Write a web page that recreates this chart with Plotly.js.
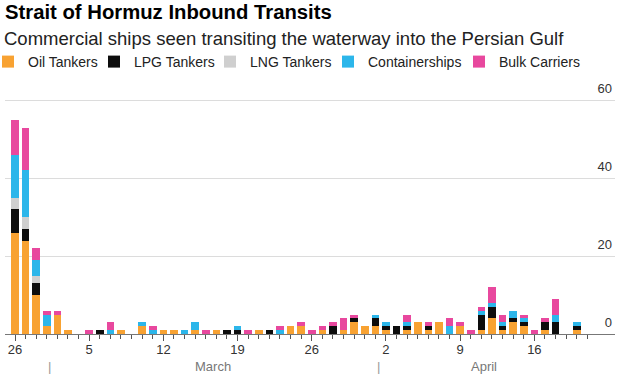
<!DOCTYPE html>
<html>
<head>
<meta charset="utf-8">
<script src="https://cdn.plot.ly/plotly-3.0.1.min.js"></script>
<style>
html,body{margin:0;padding:0;background:#fff;}
#chart{width:640px;height:375px;}
</style>
</head>
<body>
<div id="chart"></div>
<script>
// Dates: Feb 26 .. Apr 20, 2026 (one entry per day)
const dayCount = 54;
const dates = [];
for (let i = 0; i < dayCount; i++) {
  const d = new Date(Date.UTC(2026, 1, 26 + i));
  dates.push(d.toISOString().slice(0, 10));
}

const oilTankers = [26,24,10,2,5,1,0,0,0,0,1,0,2,0,1,1,0,1,0,1,0,0,0,1,0,0,2,2,0,1,0,1,3,2,2,1,0,1,3,1,3,0,2,0,1,4,1,3,2,0,1,0,0,1];
const lpgTankers = [6,3,3,0,0,0,0,0,1,0,0,0,0,0,0,0,0,0,0,0,1,1,0,0,1,0,0,0,0,0,2,0,1,0,2,1,2,1,0,1,0,0,0,0,4,3,1,1,1,0,2,3,0,1];
const lngTankers = [3,3,2,0,0,0,0,0,0,0,0,0,0,0,0,0,0,0,0,0,0,0,0,0,0,0,0,0,0,0,0,0,0,0,0,0,0,0,0,0,0,0,0,0,0,0,0,0,0,0,0,0,0,0];
const containerships = [11,12,4,3,0,0,0,0,0,1,0,0,1,1,0,0,1,2,0,0,0,1,0,0,0,1,0,0,0,0,0,0,0,0,1,1,0,1,0,0,0,2,0,0,1,1,1,2,1,0,0,2,0,1];
const bulkCarriers = [9,11,3,1,1,0,0,1,0,2,0,0,0,1,0,0,0,0,1,0,0,0,1,0,0,1,0,1,1,1,1,3,1,0,0,0,0,2,0,1,0,2,1,1,1,4,2,0,1,1,1,4,0,0];

const majorTicks = ['2026-02-26','2026-03-05','2026-03-12','2026-03-19','2026-03-26','2026-04-02','2026-04-09','2026-04-16'];
const minorTicks = dates.concat(['2026-04-21']);
const yTicks = [0, 20, 40, 60];

const seriesNames = ['Oil Tankers','LPG Tankers','LNG Tankers','Containerships','Bulk Carriers'];
const seriesValues = [oilTankers, lpgTankers, lngTankers, containerships, bulkCarriers];
const seriesColors = ['#f8a232','#0d0d0d','#cfcfcf','#2cb6ea','#e8489e'];
const legendIds = ['legend','legend2','legend3','legend4','legend5'];
const legendTextX = [25, 131, 247, 365, 496];

const FONT = '"Liberation Sans", Arial, Helvetica, sans-serif';

// plot geometry (px)
const PL = 5, PW = 610, PT = 77, PB = 41, PH = 375 - PT - PB, BASE = PT + PH;
const py = px => (BASE - px) / PH;   // pixel y -> paper y
const pxx = px => (px - PL) / PW;    // pixel x -> paper x

const traces = seriesNames.map((n, k) => ({
  type: 'bar',
  name: n,
  x: dates,
  y: seriesValues[k],
  legend: legendIds[k],
  marker: {color: seriesColors[k], line: {width: 0}},
  hoverinfo: 'skip'
}));

const layout = {
  width: 640, height: 375,
  margin: {l: PL, r: 640 - PL - PW, t: PT, b: PB, autoexpand: false},
  paper_bgcolor: '#fff', plot_bgcolor: '#fff',
  barmode: 'stack',
  bargap: 0.28,
  font: {family: FONT, size: 13, color: '#222'},
  title: {
    text: '<b>Strait of Hormuz Inbound Transits</b>',
    xref: 'container', x: 5/640, xanchor: 'left',
    yref: 'container', y: 1 - 12/375, yanchor: 'middle',
    font: {family: FONT, size: 20.3, color: '#000'}
  },
  showlegend: true,
  xaxis: {
    type: 'date',
    range: ['2026-02-25 01:22', '2026-04-23 14:36'],
    tickmode: 'array',
    tickvals: majorTicks,
    tickformat: '%-d',
    ticks: 'outside', ticklen: 6, tickwidth: 1, tickcolor: '#555',
    ticklabelstandoff: -3,
    minor: {tickmode: 'array', tickvals: minorTicks, ticks: 'outside', ticklen: 4, tickwidth: 1, tickcolor: '#555', showgrid: false},
    showline: true, linecolor: '#777', linewidth: 1,
    showgrid: false, zeroline: false,
    tickfont: {family: FONT, size: 13, color: '#333'},
    fixedrange: true
  },
  yaxis: {
    range: [0, 66],
    tickmode: 'array',
    tickvals: yTicks,
    side: 'right',
    ticklabelposition: 'inside',
    ticklabelshift: -12,
    ticks: '',
    showgrid: true, gridcolor: '#dcdcdc', gridwidth: 1,
    zeroline: false, showline: false,
    tickfont: {family: FONT, size: 13, color: '#333'},
    fixedrange: true
  },
  annotations: [
    {text: 'Commercial ships seen transiting the waterway into the Persian Gulf',
     xref: 'paper', x: 0, xanchor: 'left', xshift: -3, yref: 'paper', y: py(38), yanchor: 'middle',
     showarrow: false, font: {family: FONT, size: 18.5, color: '#222'}},
    {text: '|', xref: 'x', x: '2026-03-01 06:00', yref: 'paper', y: py(366), yanchor: 'middle',
     showarrow: false, font: {family: FONT, size: 13, color: '#999'}},
    {text: '|', xref: 'x', x: '2026-04-01 06:00', yref: 'paper', y: py(366), yanchor: 'middle',
     showarrow: false, font: {family: FONT, size: 13, color: '#999'}},
    {text: 'March', xref: 'x', x: '2026-03-16 16:00', yref: 'paper', y: py(366), yanchor: 'middle',
     showarrow: false, font: {family: FONT, size: 13, color: '#777'}},
    {text: 'April', xref: 'x', x: '2026-04-11 06:00', yref: 'paper', y: py(366), yanchor: 'middle',
     showarrow: false, font: {family: FONT, size: 13, color: '#777'}}
  ]
};

legendIds.forEach((id, k) => {
  layout[id] = {
    orientation: 'h',
    xref: 'paper', x: pxx(legendTextX[k] - 37), xanchor: 'left',
    yref: 'paper', y: py(62), yanchor: 'middle',
    font: {family: FONT, size: 14, color: '#222'},
    itemwidth: 30,
    bgcolor: 'rgba(0,0,0,0)', borderwidth: 0
  };
});

Plotly.newPlot('chart', traces, layout, {displayModeBar: false, staticPlot: true});
</script>
</body>
</html>
